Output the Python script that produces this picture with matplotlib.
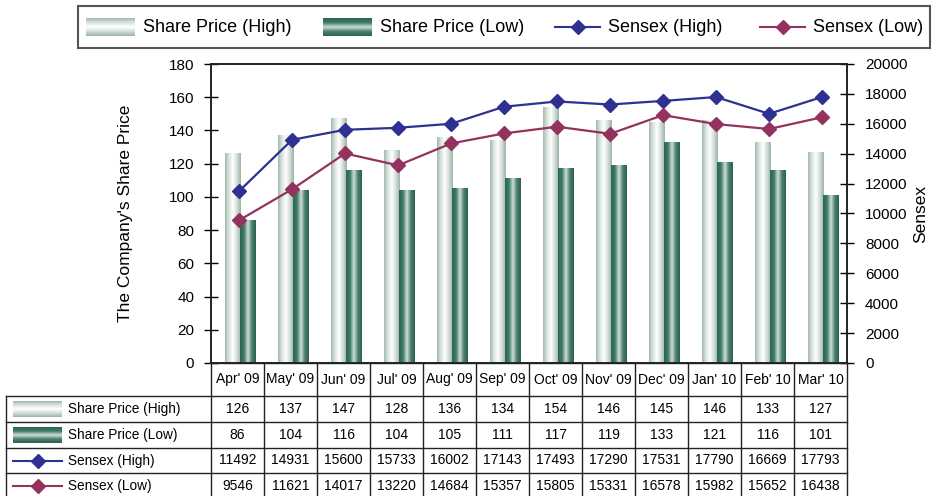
import numpy as np
import matplotlib
matplotlib.use("Agg")
from matplotlib import pyplot as plt
from matplotlib.colors import LinearSegmentedColormap
from matplotlib.patches import Rectangle
from matplotlib.lines import Line2D

plt.rcParams['font.family'] = ['Liberation Sans', 'DejaVu Sans']

# data
months = ["Apr' 09", "May' 09", "Jun' 09", "Jul' 09", "Aug' 09", "Sep' 09",
          "Oct' 09", "Nov' 09", "Dec' 09", "Jan' 10", "Feb' 10", "Mar' 10"]
price_high = [126, 137, 147, 128, 136, 134, 154, 146, 145, 146, 133, 127]
price_low = [86, 104, 116, 104, 105, 111, 117, 119, 133, 121, 116, 101]
sensex_high = [11492, 14931, 15600, 15733, 16002, 17143, 17493, 17290, 17531, 17790, 16669, 17793]
sensex_low = [9546, 11621, 14017, 13220, 14684, 15357, 15805, 15331, 16578, 15982, 15652, 16438]
series_names = ['Share Price (High)', 'Share Price (Low)', 'Sensex (High)', 'Sensex (Low)']

# colours
blue = '#2e3192'
maroon = '#94325f'
cm_high = LinearSegmentedColormap.from_list('hi', ['#a3b9ae', '#dbe5df', '#ffffff', '#d3ded8', '#9db4a9'])
cm_low = LinearSegmentedColormap.from_list('lo', ['#2c6753', '#3f7a66', '#cfe0d7', '#4c7f6d', '#2a6350'])
grad = np.linspace(0, 1, 64)

W, H = 935, 496
fig = plt.figure(figsize=(W / 100, H / 100), dpi=100)
L, R, T, B = 211, 847, 64, 363
ax = fig.add_axes([L / W, 1 - B / H, (R - L) / W, (B - T) / H])
ax2 = ax.twinx()

x = np.arange(len(months))
bars_h = ax.bar(x - 0.095, price_high, width=0.285, color='none', zorder=2)
bars_l = ax.bar(x + 0.195, price_low, width=0.3, color='none', zorder=2)
for bars, cm in ((bars_h, cm_high), (bars_l, cm_low)):
    for b in bars:
        x0, w, h = b.get_x(), b.get_width(), b.get_height()
        ax.imshow(grad[None, :], cmap=cm, aspect='auto', extent=[x0, x0 + w, 0, h], zorder=2)

ax.set_xlim(-0.5, len(months) - 0.5)
ax.set_ylim(0, 180)
ax.set_yticks(range(0, 181, 20))
ax.set_xticks([])
ax.tick_params(axis='y', direction='inout', length=10, width=1, labelsize=11, pad=7)
ax.set_ylabel("The Company's Share Price", fontsize=12.5, labelpad=26)

ax2.plot(x + 0.03, sensex_high, color=blue, lw=1.6, marker='D', ms=7.5, zorder=3)
ax2.plot(x + 0.03, sensex_low, color=maroon, lw=1.6, marker='D', ms=7.5, zorder=3)
ax2.set_ylim(0, 20000)
ax2.set_yticks(range(0, 20001, 2000))
ax2.tick_params(axis='y', direction='inout', length=10, width=1, labelsize=11, pad=8)
ax2.set_ylabel('Sensex', fontsize=12.5, labelpad=4)
for a in (ax, ax2):
    for s in a.spines.values():
        s.set_linewidth(1.2)
        s.set_color('#222222')

# overlay for legend and table
ov = fig.add_axes([0, 0, 1, 1], zorder=5)
ov.set_xlim(0, W)
ov.set_ylim(H, 0)
ov.axis('off')


def swatch(k, x0, y0, y1, wid=49):
    if k == 0 or k == 1:
        cm = cm_high if k == 0 else cm_low
        ov.imshow(grad[:, None], cmap=cm, aspect='auto', extent=[x0, x0 + wid, y1, y0], zorder=6)
    else:
        c = blue if k == 2 else maroon
        ym = (y0 + y1) / 2
        ov.add_line(Line2D([x0, x0 + wid], [ym, ym], color=c, lw=1.5, zorder=6))
        ov.add_line(Line2D([x0 + wid / 2], [ym], color=c, marker='D', ms=7.5, zorder=7))


# legend
ov.add_patch(Rectangle((78, 6), 852, 42, fill=False, ec='#555555', lw=1.5))
leg_x = [86, 323, 555, 760]
for k, name in enumerate(series_names):
    swatch(k, leg_x[k], 18, 36, wid=49 if k < 2 else 45)
    ov.text(leg_x[k] + (57 if k < 2 else 53), 27, name, fontsize=13, va='center', ha='left')

# table
rows = [price_high, price_low, sensex_high, sensex_low]
row_y = [396, 422, 448, 473, 499]
cw = (R - L) / len(months)
lc = '#222222'
lw = 1.0
ov.add_line(Line2D([L, R], [B, B], color=lc, lw=lw))
for yy in row_y:
    ov.add_line(Line2D([6, R], [yy, yy], color=lc, lw=lw))
for i in range(len(months) + 1):
    ov.add_line(Line2D([L + i * cw] * 2, [B, row_y[-1]], color=lc, lw=lw))
ov.add_line(Line2D([6, 6], [row_y[0], row_y[-1]], color=lc, lw=lw))
for i, m in enumerate(months):
    ov.text(L + (i + 0.5) * cw, (B + row_y[0]) / 2, m, fontsize=10, ha='center', va='center')
for r, vals in enumerate(rows):
    yc = (row_y[r] + row_y[r + 1]) / 2
    swatch(r, 13, yc - 8, yc + 8)
    ov.text(68, yc, series_names[r], fontsize=9.8, ha='left', va='center')
    for i, v in enumerate(vals):
        ov.text(L + (i + 0.5) * cw, yc, str(v), fontsize=10, ha='center', va='center')

fig.savefig('out.png', dpi=100)
